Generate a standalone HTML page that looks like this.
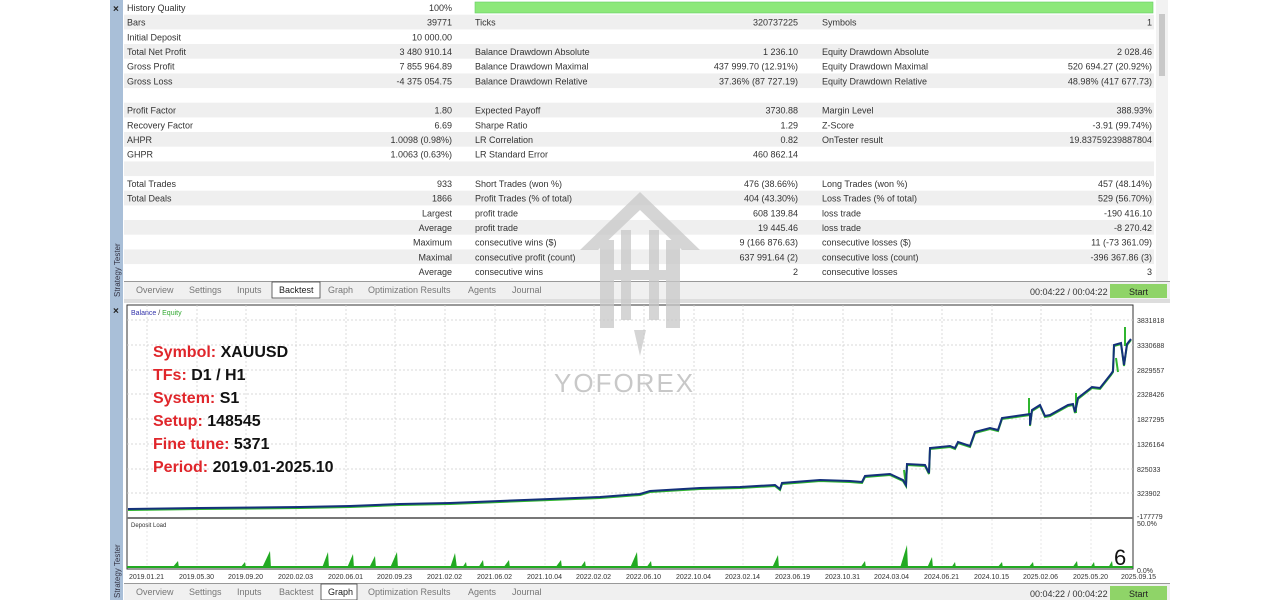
<!DOCTYPE html>
<html><head><meta charset="utf-8"><style>
html,body{margin:0;padding:0;background:#fff;width:1280px;height:600px;overflow:hidden}
svg{display:block}
text{font-family:"Liberation Sans",sans-serif;font-size:9px;fill:#333}
.r{text-anchor:end}
.big{font-size:16px;font-weight:bold;fill:#111}
.red{fill:#e0262b}
.tab{font-size:9px;fill:#777}
.ax{font-size:7px;fill:#333}
</style></head><body>
<svg width="1280" height="600" viewBox="0 0 1280 600">
<rect x="110" y="0" width="1060" height="300" fill="#fff"/>
<rect x="110" y="0" width="13" height="600" fill="#a9bfd8"/>
<text x="113" y="12" style="font-size:10px;font-weight:bold;fill:#222">×</text>
<text x="113" y="314" style="font-size:10px;font-weight:bold;fill:#222">×</text>
<text transform="translate(120,297) rotate(-90)" style="font-size:8px;fill:#334">Strategy Tester</text>
<text transform="translate(120,598) rotate(-90)" style="font-size:8px;fill:#334">Strategy Tester</text>
<g fill="#efefef">
<rect x="124" y="14.7" width="1030" height="14.7"/>
<rect x="124" y="44" width="1030" height="14.7"/>
<rect x="124" y="73.4" width="1030" height="14.7"/>
<rect x="124" y="102.7" width="1030" height="14.7"/>
<rect x="124" y="132" width="1030" height="14.7"/>
<rect x="124" y="161.4" width="1030" height="14.7"/>
<rect x="124" y="190.7" width="1030" height="14.7"/>
<rect x="124" y="220" width="1030" height="14.7"/>
<rect x="124" y="249.4" width="1030" height="14.7"/>
</g>
<rect x="475" y="2" width="678" height="11" fill="#8de87a" stroke="#6c6" stroke-width="0.6"/>
<rect x="1156" y="0" width="12" height="281" fill="#f2f2f2"/>
<rect x="1159" y="14" width="6" height="62" fill="#c8c8c8"/>
<g>
<text x="127" y="11">History Quality</text><text class="r" x="452" y="11">100%</text>
<text x="127" y="25.7">Bars</text><text class="r" x="452" y="25.7">39771</text><text x="475" y="25.7">Ticks</text><text class="r" x="798" y="25.7">320737225</text><text x="822" y="25.7">Symbols</text><text class="r" x="1152" y="25.7">1</text>
<text x="127" y="40.3">Initial Deposit</text><text class="r" x="452" y="40.3">10 000.00</text>
<text x="127" y="55">Total Net Profit</text><text class="r" x="452" y="55">3 480 910.14</text><text x="475" y="55">Balance Drawdown Absolute</text><text class="r" x="798" y="55">1 236.10</text><text x="822" y="55">Equity Drawdown Absolute</text><text class="r" x="1152" y="55">2 028.46</text>
<text x="127" y="69.7">Gross Profit</text><text class="r" x="452" y="69.7">7 855 964.89</text><text x="475" y="69.7">Balance Drawdown Maximal</text><text class="r" x="798" y="69.7">437 999.70 (12.91%)</text><text x="822" y="69.7">Equity Drawdown Maximal</text><text class="r" x="1152" y="69.7">520 694.27 (20.92%)</text>
<text x="127" y="84.3">Gross Loss</text><text class="r" x="452" y="84.3">-4 375 054.75</text><text x="475" y="84.3">Balance Drawdown Relative</text><text class="r" x="798" y="84.3">37.36% (87 727.19)</text><text x="822" y="84.3">Equity Drawdown Relative</text><text class="r" x="1152" y="84.3">48.98% (417 677.73)</text>
<text x="127" y="113.7">Profit Factor</text><text class="r" x="452" y="113.7">1.80</text><text x="475" y="113.7">Expected Payoff</text><text class="r" x="798" y="113.7">3730.88</text><text x="822" y="113.7">Margin Level</text><text class="r" x="1152" y="113.7">388.93%</text>
<text x="127" y="128.3">Recovery Factor</text><text class="r" x="452" y="128.3">6.69</text><text x="475" y="128.3">Sharpe Ratio</text><text class="r" x="798" y="128.3">1.29</text><text x="822" y="128.3">Z-Score</text><text class="r" x="1152" y="128.3">-3.91 (99.74%)</text>
<text x="127" y="143">AHPR</text><text class="r" x="452" y="143">1.0098 (0.98%)</text><text x="475" y="143">LR Correlation</text><text class="r" x="798" y="143">0.82</text><text x="822" y="143">OnTester result</text><text class="r" x="1152" y="143">19.83759239887804</text>
<text x="127" y="157.7">GHPR</text><text class="r" x="452" y="157.7">1.0063 (0.63%)</text><text x="475" y="157.7">LR Standard Error</text><text class="r" x="798" y="157.7">460 862.14</text>
<text x="127" y="187">Total Trades</text><text class="r" x="452" y="187">933</text><text x="475" y="187">Short Trades (won %)</text><text class="r" x="798" y="187">476 (38.66%)</text><text x="822" y="187">Long Trades (won %)</text><text class="r" x="1152" y="187">457 (48.14%)</text>
<text x="127" y="201.7">Total Deals</text><text class="r" x="452" y="201.7">1866</text><text x="475" y="201.7">Profit Trades (% of total)</text><text class="r" x="798" y="201.7">404 (43.30%)</text><text x="822" y="201.7">Loss Trades (% of total)</text><text class="r" x="1152" y="201.7">529 (56.70%)</text>
<text class="r" x="452" y="216.3">Largest</text><text x="475" y="216.3">profit trade</text><text class="r" x="798" y="216.3">608 139.84</text><text x="822" y="216.3">loss trade</text><text class="r" x="1152" y="216.3">-190 416.10</text>
<text class="r" x="452" y="231">Average</text><text x="475" y="231">profit trade</text><text class="r" x="798" y="231">19 445.46</text><text x="822" y="231">loss trade</text><text class="r" x="1152" y="231">-8 270.42</text>
<text class="r" x="452" y="245.7">Maximum</text><text x="475" y="245.7">consecutive wins ($)</text><text class="r" x="798" y="245.7">9 (166 876.63)</text><text x="822" y="245.7">consecutive losses ($)</text><text class="r" x="1152" y="245.7">11 (-73 361.09)</text>
<text class="r" x="452" y="260.3">Maximal</text><text x="475" y="260.3">consecutive profit (count)</text><text class="r" x="798" y="260.3">637 991.64 (2)</text><text x="822" y="260.3">consecutive loss (count)</text><text class="r" x="1152" y="260.3">-396 367.86 (3)</text>
<text class="r" x="452" y="275">Average</text><text x="475" y="275">consecutive wins</text><text class="r" x="798" y="275">2</text><text x="822" y="275">consecutive losses</text><text class="r" x="1152" y="275">3</text>
</g>
<rect x="124" y="281" width="1046" height="18" fill="#f0f0f0"/>
<line x1="124" y1="281.5" x2="1170" y2="281.5" stroke="#999"/>
<rect x="272" y="282" width="48" height="16" fill="#fff" stroke="#444" stroke-width="0.8"/>
<text class="tab" x="136" y="293">Overview</text><text class="tab" x="189" y="293">Settings</text><text class="tab" x="237" y="293">Inputs</text><text x="279" y="293" style="fill:#222">Backtest</text><text class="tab" x="328" y="293">Graph</text><text class="tab" x="368" y="293">Optimization Results</text><text class="tab" x="468" y="293">Agents</text><text class="tab" x="512" y="293">Journal</text>
<text x="1030" y="295" style="fill:#333">00:04:22 / 00:04:22</text>
<rect x="1110" y="284" width="57" height="14" fill="#8fd468"/><text x="1129" y="295" style="fill:#222">Start</text>
<rect x="124" y="299" width="1046" height="4" fill="#ddd"/>
<rect x="127" y="305" width="1006" height="213" fill="#fff" stroke="#333" stroke-width="1"/>
<g stroke="#ccc" stroke-dasharray="2,2" stroke-width="0.7">
<line x1="127" x2="1133" y1="320" y2="320"/><line x1="127" x2="1133" y1="345" y2="345"/><line x1="127" x2="1133" y1="370" y2="370"/><line x1="127" x2="1133" y1="394" y2="394"/><line x1="127" x2="1133" y1="419" y2="419"/><line x1="127" x2="1133" y1="444" y2="444"/><line x1="127" x2="1133" y1="469" y2="469"/><line x1="127" x2="1133" y1="493" y2="493"/>
<line x1="147" x2="147" y1="305" y2="518"/><line x1="197" x2="197" y1="305" y2="518"/><line x1="246" x2="246" y1="305" y2="518"/><line x1="296" x2="296" y1="305" y2="518"/><line x1="346" x2="346" y1="305" y2="518"/><line x1="395" x2="395" y1="305" y2="518"/><line x1="445" x2="445" y1="305" y2="518"/><line x1="495" x2="495" y1="305" y2="518"/><line x1="545" x2="545" y1="305" y2="518"/><line x1="594" x2="594" y1="305" y2="518"/><line x1="644" x2="644" y1="305" y2="518"/><line x1="694" x2="694" y1="305" y2="518"/><line x1="743" x2="743" y1="305" y2="518"/><line x1="793" x2="793" y1="305" y2="518"/><line x1="843" x2="843" y1="305" y2="518"/><line x1="892" x2="892" y1="305" y2="518"/><line x1="942" x2="942" y1="305" y2="518"/><line x1="992" x2="992" y1="305" y2="518"/><line x1="1041" x2="1041" y1="305" y2="518"/><line x1="1091" x2="1091" y1="305" y2="518"/>
</g>
<text x="131" y="315" style="font-size:7px;fill:#33a"><tspan>Balance</tspan><tspan style="fill:#333"> / </tspan><tspan style="fill:#3a3">Equity</tspan></text>
<text class="ax" x="1137" y="323">3831818</text><text class="ax" x="1137" y="348">3330688</text><text class="ax" x="1137" y="373">2829557</text><text class="ax" x="1137" y="397">2328426</text><text class="ax" x="1137" y="422">1827295</text><text class="ax" x="1137" y="447">1326164</text><text class="ax" x="1137" y="472">825033</text><text class="ax" x="1137" y="496">323902</text><text class="ax" x="1137" y="519">-177779</text><text class="ax" x="1137" y="526">50.0%</text><text class="ax" x="1137" y="573">0.0%</text>
<!-- watermark -->
<g fill="#c8c8c8" opacity="0.75">
<polygon points="640,192 580,250 598,250 640,210 682,250 700,250"/>
<rect x="600" y="240" width="14" height="88"/><rect x="666" y="240" width="14" height="88"/>
<rect x="621" y="230" width="10" height="90"/><rect x="649" y="230" width="10" height="90"/>
<rect x="610" y="270" width="60" height="10"/>
<polygon points="634,330 646,330 640,356"/>
</g>
<text x="554" y="392" style="font-size:26px;fill:#c8c8c8;letter-spacing:2px">YOFOREX</text>
<!-- curve: green equity under blue -->
<g fill="none" stroke="#2fb52f" stroke-width="2">
<polyline points="128,510 200,509 300,508 350,507 400,505 450,504 500,502 550,500 600,498 640,495 650,492 700,489 740,488 775,486 780,490 782,484 820,481 850,482 862,483 865,477 890,475 903,481 906,486 907,465 925,466 929,474 930,449 950,447 955,449 958,443 970,447 975,433 990,429 998,431 1002,419 1030,415 1030,426 1032,411 1040,406 1045,417 1050,416 1068,406 1073,405 1075,413 1078,399 1092,388 1100,389 1111,375 1113,372 1114,346 1121,344 1124,366 1127,345 1131,340"/>
<line x1="904" y1="470" x2="906" y2="486"/><line x1="1029" y1="398" x2="1029" y2="416"/>
<line x1="1076" y1="393" x2="1076" y2="413"/><line x1="1125" y1="327" x2="1125" y2="346"/>
<line x1="1116" y1="358" x2="1118" y2="372"/>
</g>
<polyline fill="none" stroke="#14307a" stroke-width="2" points="128,509 200,508 300,507 350,506 400,504 450,503 500,501 550,499 600,497 640,494 650,491 700,488 740,487 775,485 780,489 782,483 820,480 850,481 862,482 865,476 890,474 903,480 906,485 907,464 925,465 929,473 930,448 950,446 955,448 958,442 970,446 975,432 990,428 998,430 1002,418 1030,414 1030,425 1032,410 1040,405 1045,416 1050,415 1068,405 1073,404 1075,412 1078,398 1092,387 1100,388 1111,374 1113,371 1114,345 1121,343 1124,365 1127,344 1131,339"/>
<text class="big" x="153" y="357"><tspan class="red">Symbol:</tspan> XAUUSD</text>
<text class="big" x="153" y="380"><tspan class="red">TFs:</tspan> D1 / H1</text>
<text class="big" x="153" y="403"><tspan class="red">System:</tspan> S1</text>
<text class="big" x="153" y="426"><tspan class="red">Setup:</tspan> 148545</text>
<text class="big" x="153" y="449"><tspan class="red">Fine tune:</tspan> 5371</text>
<text class="big" x="153" y="472"><tspan class="red">Period:</tspan> 2019.01-2025.10</text>
<rect x="127" y="518" width="1006" height="51" fill="#fff" stroke="#333" stroke-width="1"/>
<line x1="127" y1="518" x2="1133" y2="518" stroke="#777" stroke-width="2"/>
<g stroke="#ddd" stroke-dasharray="2,2" stroke-width="0.7">
<line x1="147" x2="147" y1="519" y2="566"/><line x1="197" x2="197" y1="519" y2="566"/><line x1="246" x2="246" y1="519" y2="566"/><line x1="296" x2="296" y1="519" y2="566"/><line x1="346" x2="346" y1="519" y2="566"/><line x1="395" x2="395" y1="519" y2="566"/><line x1="445" x2="445" y1="519" y2="566"/><line x1="495" x2="495" y1="519" y2="566"/><line x1="545" x2="545" y1="519" y2="566"/><line x1="594" x2="594" y1="519" y2="566"/><line x1="644" x2="644" y1="519" y2="566"/><line x1="694" x2="694" y1="519" y2="566"/><line x1="743" x2="743" y1="519" y2="566"/><line x1="793" x2="793" y1="519" y2="566"/><line x1="843" x2="843" y1="519" y2="566"/><line x1="892" x2="892" y1="519" y2="566"/><line x1="942" x2="942" y1="519" y2="566"/><line x1="992" x2="992" y1="519" y2="566"/><line x1="1041" x2="1041" y1="519" y2="566"/><line x1="1091" x2="1091" y1="519" y2="566"/>
</g>
<text x="131" y="527" style="font-size:6px;fill:#333">Deposit Load</text>
<g fill="#22aa22">
<rect x="127" y="566" width="1006" height="2"/>
<polygon points="172,568 178,561 179,568"/><polygon points="240,568 245,562 246,568"/>
<polygon points="262,568 270,551 271,568"/><polygon points="322,568 328,552 329,568"/>
<polygon points="347,568 353,554 354,568"/><polygon points="369,568 375,556 376,568"/>
<polygon points="390,568 397,552 398,568"/><polygon points="450,568 455,553 457,568"/>
<polygon points="462,568 466,562 467,568"/><polygon points="478,568 483,560 484,568"/>
<polygon points="503,568 509,560 510,568"/><polygon points="555,568 561,560 562,568"/>
<polygon points="580,568 585,561 586,568"/><polygon points="630,568 637,552 638,568"/>
<polygon points="646,568 651,561 652,568"/><polygon points="772,568 778,555 779,568"/>
<polygon points="860,568 865,561 866,568"/><polygon points="900,568 907,545 908,568"/>
<polygon points="927,568 932,557 933,568"/><polygon points="951,568 955,562 956,568"/>
<polygon points="997,568 1002,562 1003,568"/><polygon points="1028,568 1033,562 1034,568"/>
<polygon points="1072,568 1077,561 1078,568"/><polygon points="1090,568 1094,562 1095,568"/>
<polygon points="1108,568 1112,561 1113,568"/>
</g>
<text x="1114" y="565" style="font-size:22px;fill:#111">6</text>
<text class="ax" x="129" y="579">2019.01.21</text><text class="ax" x="179" y="579">2019.05.30</text><text class="ax" x="228" y="579">2019.09.20</text><text class="ax" x="278" y="579">2020.02.03</text><text class="ax" x="328" y="579">2020.06.01</text><text class="ax" x="377" y="579">2020.09.23</text><text class="ax" x="427" y="579">2021.02.02</text><text class="ax" x="477" y="579">2021.06.02</text><text class="ax" x="527" y="579">2021.10.04</text><text class="ax" x="576" y="579">2022.02.02</text><text class="ax" x="626" y="579">2022.06.10</text><text class="ax" x="676" y="579">2022.10.04</text><text class="ax" x="725" y="579">2023.02.14</text><text class="ax" x="775" y="579">2023.06.19</text><text class="ax" x="825" y="579">2023.10.31</text><text class="ax" x="874" y="579">2024.03.04</text><text class="ax" x="924" y="579">2024.06.21</text><text class="ax" x="974" y="579">2024.10.15</text><text class="ax" x="1023" y="579">2025.02.06</text><text class="ax" x="1073" y="579">2025.05.20</text><text class="ax" x="1121" y="579">2025.09.15</text>
<rect x="124" y="583" width="1046" height="17" fill="#f0f0f0"/>
<line x1="124" y1="583.5" x2="1170" y2="583.5" stroke="#999"/>
<rect x="321" y="584" width="36" height="16" fill="#fff" stroke="#444" stroke-width="0.8"/>
<text class="tab" x="136" y="595">Overview</text><text class="tab" x="189" y="595">Settings</text><text class="tab" x="237" y="595">Inputs</text><text class="tab" x="279" y="595">Backtest</text><text x="328" y="595" style="fill:#222">Graph</text><text class="tab" x="368" y="595">Optimization Results</text><text class="tab" x="468" y="595">Agents</text><text class="tab" x="512" y="595">Journal</text>
<text x="1030" y="597" style="fill:#333">00:04:22 / 00:04:22</text>
<rect x="1110" y="586" width="57" height="14" fill="#8fd468"/><text x="1129" y="597" style="fill:#222">Start</text>
</svg>
</body></html>
